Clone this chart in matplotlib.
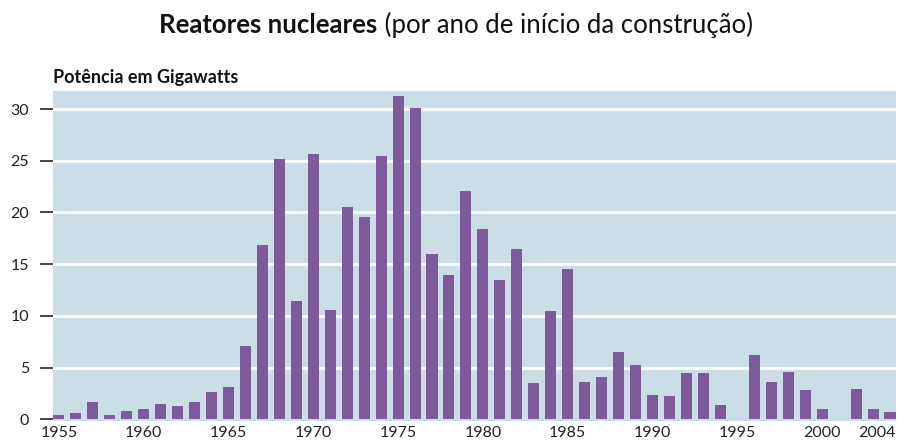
import matplotlib
matplotlib.use("Agg")
import matplotlib.pyplot as plt
import matplotlib.transforms as mtransforms
from matplotlib import font_manager

years = list(range(1955, 2005))
power_gw = [0.4, 0.6, 1.7, 0.4, 0.8, 1.0, 1.5, 1.3, 1.7, 2.7,
            3.1, 7.1, 16.9, 25.2, 11.4, 25.7, 10.6, 20.5, 19.6, 25.5,
            31.3, 30.1, 16.0, 14.0, 22.1, 18.4, 13.5, 16.5, 3.5, 10.5,
            14.5, 3.6, 4.1, 6.5, 5.3, 2.4, 2.3, 4.45, 4.45, 1.35,
            0.0, 6.2, 3.6, 4.55, 2.8, 1.0, 0.0, 2.9, 1.05, 0.7]
xtick_years = [1955, 1960, 1965, 1970, 1975, 1980, 1985, 1990, 1995, 2000, 2004]
yticks = [0, 5, 10, 15, 20, 25, 30]

title_bold = "Reatores nucleares"
title_rest = " (por ano de início da construção)"
ylabel_txt = "Potência em Gigawatts"

names = {f.name for f in font_manager.fontManager.ttflist}
fam = "Lato" if "Lato" in names else "DejaVu Sans"
plt.rcParams['font.family'] = [fam, 'DejaVu Sans']

W, H = 899, 442
fig = plt.figure(figsize=(W / 100, H / 100), dpi=100)
left, right, top, bottom = 53.3, 895.5, 91, 420.5
ax = fig.add_axes([left / W, (H - bottom) / H, (right - left) / W, (bottom - top) / H])

bg = "#cbdde6"
bar_color = "#7f5a9b"
ax.set_facecolor(bg)
bw = 0.65
ax.bar(years, power_gw, width=bw, color=bar_color, zorder=3)
ax.set_xlim(years[0] - bw / 2, years[-1] + bw / 2)
ax.set_ylim(-0.1, 31.74)
for v in yticks[1:]:
    ax.axhline(v, color="white", lw=2, zorder=2)

for s in ax.spines.values():
    s.set_visible(False)
ax.set_yticks(yticks)
ax.set_yticklabels([str(v) for v in yticks], fontsize=11.5, color="#222222")
ax.tick_params(axis='y', length=9.5, width=1.4, color="#444444", pad=8)
ax.set_xticks(xtick_years)
labels = ax.set_xticklabels([str(v) for v in xtick_years], fontsize=11.5, color="#222222")
ax.tick_params(axis='x', length=0, pad=4)
# last label ends at the axes' right edge
labels[-1].set_horizontalalignment('right')
labels[-1].set_transform(labels[-1].get_transform() +
                         mtransforms.ScaledTranslation(6 / 100, 0, fig.dpi_scale_trans))

fig.text(left / W, 1 - 77 / H, ylabel_txt, fontsize=13, fontweight='bold',
         ha='left', va='center', color="#111111")

# title in two parts, centred
fig.canvas.draw()
r = fig.canvas.get_renderer()
t1 = fig.text(0, 1 - 25 / H, title_bold, fontsize=18.5, fontweight='bold',
              ha='left', va='center', color="#111111")
t2 = fig.text(0, 1 - 25 / H, title_rest, fontsize=18.5,
              ha='left', va='center', color="#111111")
w1 = t1.get_window_extent(r).width
w2 = t2.get_window_extent(r).width
x0 = (456 - (w1 + w2) / 2)
t1.set_x(x0 / W)
t2.set_x((x0 + w1) / W)

fig.savefig("out.png", dpi=100)
